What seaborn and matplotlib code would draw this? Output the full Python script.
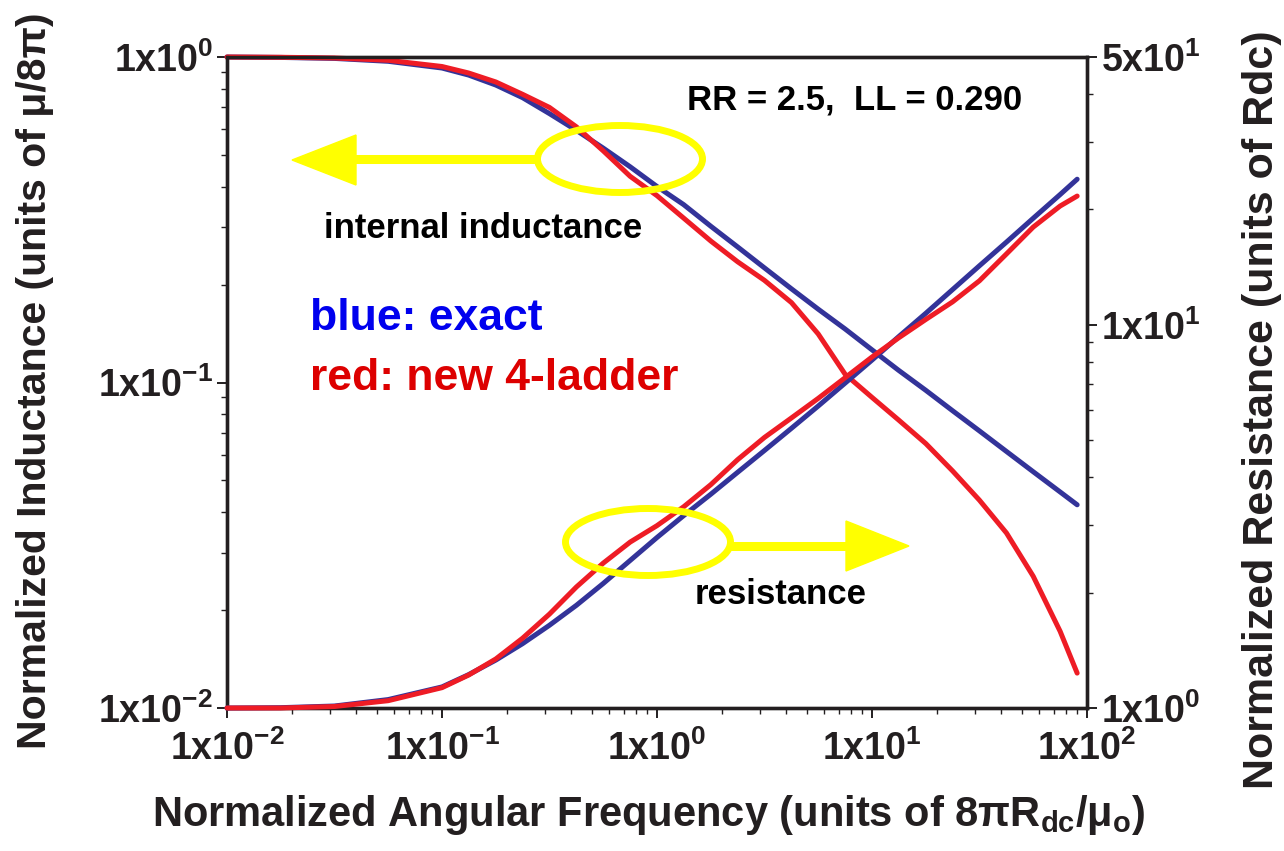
import numpy as np
import pandas as pd
import seaborn as sns
import matplotlib
matplotlib.use("Agg")
import matplotlib.pyplot as plt
from matplotlib.patches import Ellipse, Polygon
from matplotlib.lines import Line2D
from matplotlib.ticker import FixedLocator, NullFormatter

# ---------------- data ----------------
freq = [0.01, 0.0178, 0.0316, 0.0562, 0.1, 0.133, 0.178, 0.237, 0.316, 0.422,
        0.562, 0.75, 1.0, 1.33, 1.78, 2.37, 3.16, 4.22, 5.62, 7.5, 10.0, 13.3,
        17.8, 23.7, 31.6, 42.2, 56.2, 75.0, 90.0]

ind_exact = [1.0, 0.997, 0.99, 0.97, 0.925, 0.88, 0.82, 0.75, 0.67, 0.595,
             0.525, 0.46, 0.40, 0.352, 0.302, 0.261, 0.225, 0.194, 0.168, 0.146,
             0.126, 0.109, 0.0946, 0.0819, 0.0710, 0.0614, 0.0532, 0.0461, 0.0421]

ind_ladder = [1.0, 0.998, 0.993, 0.977, 0.935, 0.893, 0.838, 0.768, 0.70, 0.61,
              0.515, 0.43, 0.375, 0.32, 0.272, 0.235, 0.206, 0.176, 0.141, 0.106,
              0.090, 0.0767, 0.0649, 0.0535, 0.0435, 0.0345, 0.0254, 0.0172, 0.0128]

res_exact = [1.0, 1.002, 1.012, 1.052, 1.135, 1.222, 1.334, 1.472, 1.644, 1.854,
             2.113, 2.427, 2.786, 3.177, 3.614, 4.121, 4.699, 5.370, 6.138, 7.047,
             8.091, 9.311, 10.72, 12.36, 14.26, 16.44, 18.97, 21.88, 23.99]

res_ladder = [1.0, 1.0, 1.009, 1.045, 1.130, 1.219, 1.343, 1.521, 1.758, 2.070,
              2.388, 2.710, 2.992, 3.350, 3.828, 4.446, 5.082, 5.715, 6.427, 7.278,
              8.241, 9.247, 10.33, 11.48, 13.03, 15.31, 17.99, 20.42, 21.68]

x_ticks = [0.01, 0.1, 1, 10, 100]
x_tick_labels = [r"$\mathbf{1x10^{-2}}$", r"$\mathbf{1x10^{-1}}$", r"$\mathbf{1x10^{0}}$",
                 r"$\mathbf{1x10^{1}}$", r"$\mathbf{1x10^{2}}$"]
yl_ticks = [0.01, 0.1, 1]
yl_tick_labels = [r"$\mathbf{1x10^{-2}}$", r"$\mathbf{1x10^{-1}}$", r"$\mathbf{1x10^{0}}$"]
yr_ticks = [1, 10, 50]
yr_tick_labels = [r"$\mathbf{1x10^{0}}$", r"$\mathbf{1x10^{1}}$", r"$\mathbf{5x10^{1}}$"]

# ---------------- style ----------------
sns.set_theme(style="ticks")
plt.rcParams["font.family"] = ["Liberation Sans", "DejaVu Sans"]
plt.rcParams["font.weight"] = "bold"
plt.rcParams["mathtext.fontset"] = "custom"
plt.rcParams["mathtext.rm"] = "Liberation Sans:bold"
plt.rcParams["mathtext.bf"] = "Liberation Sans:bold"
plt.rcParams["mathtext.it"] = "Liberation Sans:bold"

BLUE = "#333399"
RED = "#EE1C25"
INK = "#231F20"

df_ind = pd.DataFrame({"freq": freq, "exact": ind_exact, "ladder": ind_ladder})
df_res = pd.DataFrame({"freq": freq, "exact": res_exact, "ladder": res_ladder})

W, H = 1284, 851
fig = plt.figure(figsize=(W / 100, H / 100), dpi=100)
L, R, T, B = 227, 1087, 57, 708
ax = fig.add_axes([L / W, 1 - B / H, (R - L) / W, (B - T) / H])
ax2 = ax.twinx()

for a in (ax, ax2):
    a.set_xscale("log")
    a.set_yscale("log")

sns.lineplot(data=df_ind, x="freq", y="exact", ax=ax, color=BLUE, lw=3.6, clip_on=False, zorder=5)
sns.lineplot(data=df_ind, x="freq", y="ladder", ax=ax, color=RED, lw=3.6, clip_on=False, zorder=6)
sns.lineplot(data=df_res, x="freq", y="exact", ax=ax2, color=BLUE, lw=3.6, clip_on=False, zorder=5)
sns.lineplot(data=df_res, x="freq", y="ladder", ax=ax2, color=RED, lw=3.6, clip_on=False, zorder=6)

ax.set_xlim(0.01, 100)
ax.set_ylim(0.01, 1)
ax2.set_ylim(1, 50)

ax.set_xticks(x_ticks, labels=x_tick_labels)
ax.set_yticks(yl_ticks, labels=yl_tick_labels)
ax2.set_yticks(yr_ticks, labels=yr_tick_labels)

minor_x = [m * 10.0 ** e for e in range(-2, 2) for m in range(2, 10)]
minor_yl = [m * 10.0 ** e for e in range(-2, 0) for m in range(2, 10)]
minor_yr = [m for m in range(2, 10)] + [20, 30, 40]
ax.xaxis.set_minor_locator(FixedLocator(minor_x))
ax.yaxis.set_minor_locator(FixedLocator(minor_yl))
ax2.yaxis.set_minor_locator(FixedLocator(minor_yr))
for a in (ax, ax2):
    a.xaxis.set_minor_formatter(NullFormatter())
    a.yaxis.set_minor_formatter(NullFormatter())
    for s in a.spines.values():
        s.set_linewidth(2.4)
        s.set_color(INK)
    a.tick_params(which="major", direction="out", length=7, width=1.4, color=INK,
                  labelsize=27, labelcolor=INK)
    a.tick_params(which="minor", direction="out", length=4.5, width=1.0, color=INK)
    a.grid(False)
ax.tick_params(axis="x", which="major", pad=9)
ax.tick_params(axis="y", which="major", pad=3)
ax2.tick_params(axis="y", which="major", pad=3)

ax.set_xlabel(r"Normalized Angular Frequency (units of 8$\pi$R$_{\mathrm{dc}}$/$\mu_{\mathrm{o}}$)",
              fontsize=30, fontweight="bold", color=INK)
ax.set_ylabel("Normalized Inductance (units of μ/8π)", fontsize=29.5, fontweight="bold",
              color=INK)
ax2.set_ylabel("Normalized Resistance (units of Rdc)", fontsize=31, fontweight="bold",
               color=INK, rotation=90)
ax.xaxis.set_label_coords((648 - L) / (R - L), (B - 815) / (B - T))
ax.xaxis.label.set_va("center")
ax.yaxis.set_label_coords((35 - L) / (R - L), (B - 381) / (B - T))
ax.yaxis.label.set_va("center")
ax2.yaxis.set_label_coords((1262 - L) / (R - L), (B - 410) / (B - T))
ax2.yaxis.label.set_va("center")


def fx(px):
    return px / W


def fy(py):
    return 1 - py / H


# ---------------- annotations ----------------
fig.text(fx(855), fy(100), "RR = 2.5,  LL = 0.290", fontsize=25, fontweight="bold",
         color="black", ha="center", va="center")
fig.text(fx(483), fy(229), "internal inductance", fontsize=25, fontweight="bold",
         color="black", ha="center", va="center")
fig.text(fx(310), fy(318), "blue: exact", fontsize=32, fontweight="bold",
         color="#0000EE", ha="left", va="center")
fig.text(fx(310), fy(378), "red: new 4-ladder", fontsize=32, fontweight="bold",
         color="#DD0000", ha="left", va="center")
fig.text(fx(781), fy(594), "resistance", fontsize=25, fontweight="bold",
         color="black", ha="center", va="center")

YEL = "#FFFF00"
for (cx, cy) in [(620, 159), (648, 542)]:
    fig.add_artist(Ellipse((fx(cx), fy(cy)), 165 / W, 67 / H, transform=fig.transFigure,
                           fill=False, edgecolor=YEL, lw=5, zorder=10))

# left arrow (internal inductance)
fig.add_artist(Line2D([fx(350), fx(538)], [fy(159), fy(159)], transform=fig.transFigure,
                      color=YEL, lw=6.5, zorder=10, solid_capstyle="butt"))
fig.add_artist(Polygon([[fx(292), fy(160)], [fx(356), fy(135)], [fx(356), fy(185)]],
                       closed=True, transform=fig.transFigure, color=YEL, zorder=10))
# right arrow (resistance)
fig.add_artist(Line2D([fx(730), fx(850)], [fy(546), fy(546)], transform=fig.transFigure,
                      color=YEL, lw=6.5, zorder=10, solid_capstyle="butt"))
fig.add_artist(Polygon([[fx(909), fy(546)], [fx(846), fy(521)], [fx(846), fy(571)]],
                       closed=True, transform=fig.transFigure, color=YEL, zorder=10))

fig.savefig("out.png", dpi=100)
